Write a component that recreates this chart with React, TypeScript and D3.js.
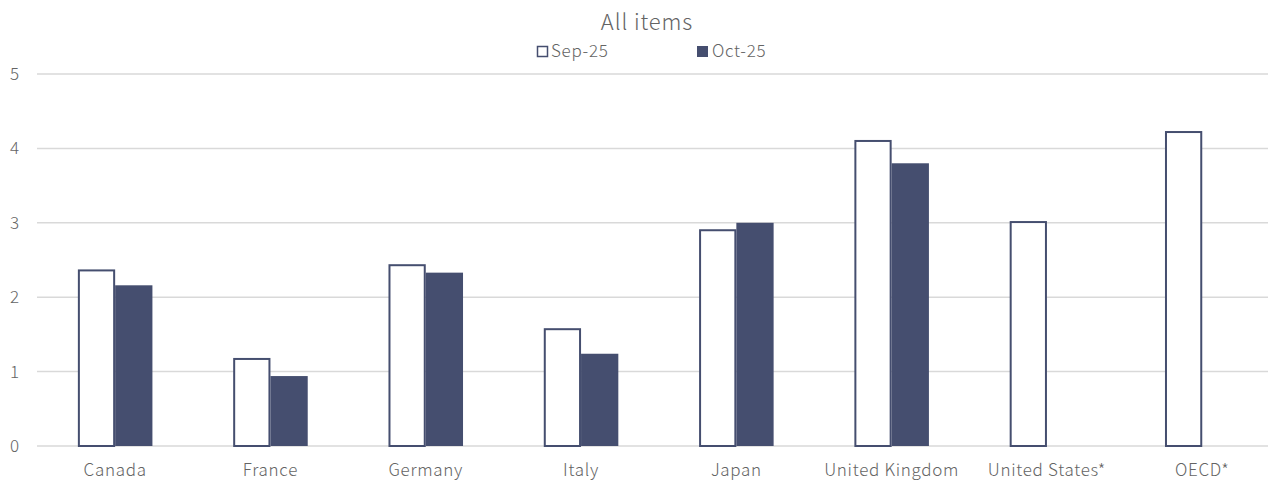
import React from 'react';
import * as d3 from 'd3';

const categories = ['Canada', 'France', 'Germany', 'Italy', 'Japan', 'United Kingdom', 'United States*', 'OECD*'];
const sep25: (number | null)[] = [2.36, 1.17, 2.43, 1.57, 2.9, 4.1, 3.01, 4.22];
const oct25: (number | null)[] = [2.16, 0.94, 2.33, 1.24, 3.0, 3.8, null, null];
const yTicks = [0, 1, 2, 3, 4, 5];
const seriesNames = ['Sep-25', 'Oct-25'];

const W = 1272;
const H = 480;
const margin = { top: 74, bottom: 34, left: 37 };
const gridRight = 1268;
const font = '"Noto Sans CJK JP", "Noto Sans", sans-serif';
const textColor = '#646464';
const barColor = '#454e6f';

export default function App() {
  // category step (~155 px per country)
  const x = d3.scaleBand<string>()
    .domain(categories)
    .range([37.5, 37.5 + 155.3 * categories.length])
    .paddingInner(0.52)
    .paddingOuter(0.26);

  const y = d3.scaleLinear()
    .domain([0, 5])
    .range([H - margin.bottom, margin.top]);

  const sub = d3.scaleBand<string>()
    .domain(seriesNames)
    .range([0, x.bandwidth()]);

  const labelStyle = { letterSpacing: '0.7px' };

  return (
    <div>
      <style>{`body{margin:0}`}</style>
      <svg width={W} height={H} style={{ display: 'block', fontFamily: font, fontWeight: 300 }}>
        <rect width={W} height={H} fill="#fff" />
        {/* gridlines */}
        {yTicks.map(t => (
          <g key={t}>
            <line x1={margin.left} x2={gridRight} y1={y(t)} y2={y(t)} stroke="#d9d9d9" strokeWidth={1.5} />
            <text x={19} y={y(t)} dy="0.35em" textAnchor="end" fontSize={17} fill={textColor}>{t}</text>
          </g>
        ))}
        {/* bars */}
        {categories.map((c, i) => {
          const x0 = x(c)!;
          const bw = sub.bandwidth();
          const s = sep25[i];
          const o = oct25[i];
          return (
            <g key={c}>
              {s != null && (
                <rect x={x0 + sub('Sep-25')! + 1} y={y(s)} width={bw - 2} height={y(0) - y(s)}
                  fill="#fff" stroke={barColor} strokeWidth={2} />
              )}
              {o != null && (
                <rect x={x0 + sub('Oct-25')!} y={y(o)} width={bw} height={y(0) - y(o)} fill={barColor} />
              )}
              <text x={x0 + x.bandwidth() / 2} y={H - 4} textAnchor="middle" fontSize={17} fill={textColor} style={labelStyle}>{c}</text>
            </g>
          );
        })}
        {/* title */}
        <text x={647} y={30} textAnchor="middle" fontSize={22} fill={textColor} style={{ letterSpacing: '0.9px' }}>All items</text>
        {/* legend */}
        <rect x={537.5} y={46.5} width={10} height={10} fill="#fff" stroke={barColor} strokeWidth={1.5} />
        <text x={551} y={51.5} dy="0.35em" fontSize={17} fill={textColor} style={labelStyle}>{seriesNames[0]}</text>
        <rect x={697} y={46} width={11} height={11} fill={barColor} />
        <text x={712} y={51.5} dy="0.35em" fontSize={17} fill={textColor} style={labelStyle}>{seriesNames[1]}</text>
      </svg>
    </div>
  );
}
